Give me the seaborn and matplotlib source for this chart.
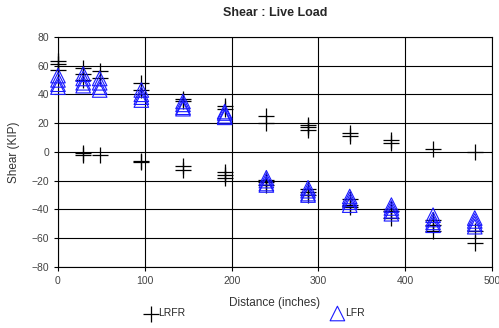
import pandas as pd
from matplotlib import pyplot as plt
import numpy as np
import seaborn as sns

# shear values, several load cases per location
dist = [0, 29, 48, 96, 144, 192, 240, 288, 336, 384, 432, 480]

lrfr_pos = [[63, 61, 57], [58, 54, 50], [56, 51], [48, 43], [37, 35], [32, 30],
            [25, 20], [19, 17, 15], [13, 11], [8, 6.5], [2], [0]]
lrfr_neg = [[], [-1, -2], [-2], [-6.5, -7], [-10, -12.5], [-14, -16, -18],
            [-19.5, -21, -23], [-26, -28, -30], [-33, -37, -38], [-40, -41, -46],
            [-47, -51, -55], [-55, -63]]
lfr = [[53, 50, 47, 45], [54, 51, 48, 46], [51, 48, 45, 43], [43, 40, 38, 36],
       [35, 33, 31, 30], [28, 27, 25, 24], [-18, -20, -22, -23], [-25, -27, -29, -30],
       [-31, -33, -35, -37], [-37, -39, -41, -43], [-44, -47, -49, -51],
       [-46, -48, -50, -52]]

rows = []
for x, a, b in zip(dist, lrfr_pos, lrfr_neg):
    for v in a + b:
        rows.append(('LRFR', x, v))
for x, a in zip(dist, lfr):
    for v in a:
        rows.append(('LFR', x, v))
df = pd.DataFrame(rows, columns=['Rating', 'Distance', 'Shear'])

sns.set_style('white')
plt.rcParams['font.family'] = ['Liberation Sans', 'DejaVu Sans']

fig = plt.figure(figsize=(4.99, 3.28), dpi=100)
ax = fig.add_axes([0.1162, 0.186, 0.870, 0.702])

sns.scatterplot(data=df[df.Rating == 'LRFR'], x='Distance', y='Shear', marker='+',
                color='black', s=120, linewidth=0.9, ax=ax, label='LRFR', zorder=3,
                clip_on=False)
sns.scatterplot(data=df[df.Rating == 'LFR'], x='Distance', y='Shear', marker='^',
                facecolor='none', edgecolor='#1a1aff', s=110, linewidth=0.8, ax=ax,
                label='LFR', zorder=4, clip_on=False)

ax.set_xlim(0, 500)
ax.set_ylim(-80, 80)
ax.set_xticks(np.arange(0, 501, 100))
ax.set_yticks(np.arange(-80, 81, 20))
ax.grid(True, color='black', linewidth=0.8)
ax.set_axisbelow(True)
for s in ax.spines.values():
    s.set_color('black')
    s.set_linewidth(0.8)
ax.tick_params(axis='both', labelsize=7.5, labelcolor='#444444', length=3,
               width=0.8, color='black', direction='out', left=True, bottom=True)

ax.set_xlabel('Distance (inches)', fontsize=8.5, color='#333333', labelpad=8)
ax.set_ylabel('Shear (KIP)', fontsize=8.5, color='#333333', labelpad=8)
ax.set_title('Shear : Live Load', fontsize=9, fontweight='bold', pad=15)

ax.legend_.remove()
h, l = ax.get_legend_handles_labels()
fig.legend(h, l, loc='center', bbox_to_anchor=(0.51, 0.045), ncol=2, frameon=False,
           fontsize=7.5, columnspacing=14, handletextpad=0.1, handlelength=1.2)

plt.savefig('out.png', dpi=100)
